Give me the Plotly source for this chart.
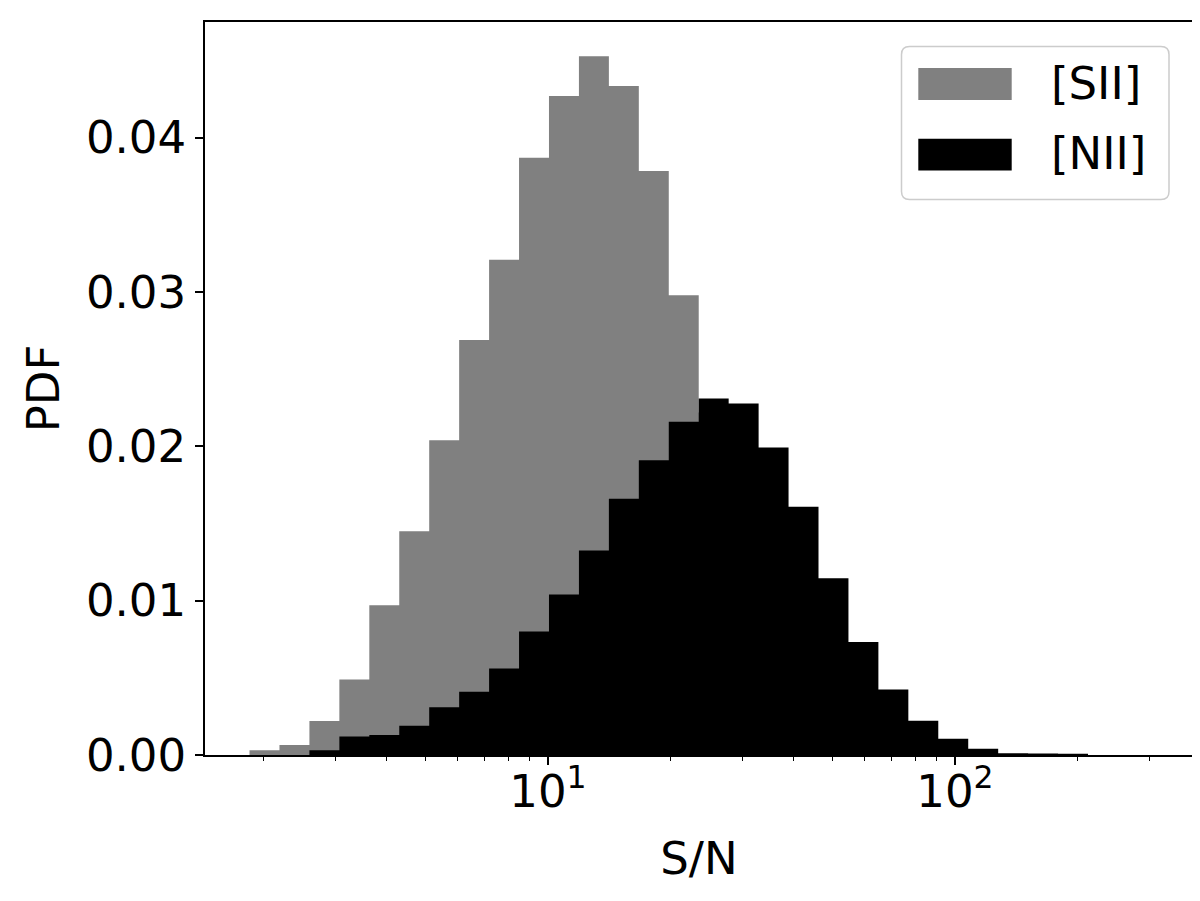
import numpy as np
import plotly.graph_objects as go

# ---- data ----
LOG_LO, LOG_HI, N_BINS = 0.2666, 2.474, 30   # log10 S/N range of the shared histogram bins
bin_edges = list(np.logspace(LOG_LO, LOG_HI, N_BINS + 1))

sii_pdf = [0.0003, 0.00065, 0.0022, 0.0049, 0.0097, 0.0145, 0.0204, 0.0269, 0.0321, 0.0387,
           0.0427, 0.04528, 0.04336, 0.03785, 0.0298, 0.0222, 0.0158, 0.0108, 0.0068, 0.0040,
           0.0022, 0.0011, 0.0005, 0.0002, 0.0001, 0.00005, 0.00002, 0.0, 0.0, 0.0]
nii_pdf = [0.0, 0.0, 0.0003, 0.0012, 0.0013, 0.0019, 0.0031, 0.0041, 0.0056, 0.0080,
           0.0104, 0.01325, 0.0166, 0.0191, 0.0216, 0.02311, 0.02277, 0.01993, 0.01609, 0.01146,
           0.00732, 0.00424, 0.00222, 0.00105, 0.0004, 0.00012, 0.0001, 0.00008, 0.0, 0.0]
series_names = ["[SII]", "[NII]"]
series_colors = ["#808080", "#000000"]

x_major_vals = [10, 100]
x_major_text = ["10<sup>1</sup>", "10<sup>2</sup>"]
x_minor_vals = [2, 3, 4, 5, 6, 7, 8, 9, 20, 30, 40, 50, 60, 70, 80, 90, 200, 300]
y_tick_vals = [0.0, 0.01, 0.02, 0.03, 0.04]

FONT = "DejaVu Sans"
FS = 45

fig = go.Figure()
for name, vals, col in zip(series_names, [sii_pdf, nii_pdf], series_colors):
    fig.add_trace(go.Scatter(
        x=bin_edges, y=list(vals) + [0.0],
        mode="lines", line=dict(shape="hv", width=0, color=col),
        fill="tozeroy", fillcolor=col, name=name, showlegend=False,
    ))

# page offset of the figure (browser body margin)
OFF = 8
# target plot area in screen pixels: x 205..1193, y 20..755
L, R, T, B = 205, 1193, 20, 755
W, H = R - L, B - T
def px(x):
    return (x - L) / W
def py(y):
    return (B - y) / H

# custom matplotlib-like legend
bx0, bx1, by0, by1 = px(901.5), px(1169), py(198), py(44.5)
rx, ry = 8 / W, 8 / H
path = (f"M {bx0+rx},{by1} L {bx1-rx},{by1} Q {bx1},{by1} {bx1},{by1-ry} "
        f"L {bx1},{by0+ry} Q {bx1},{by0} {bx1-rx},{by0} L {bx0+rx},{by0} "
        f"Q {bx0},{by0} {bx0},{by0+ry} L {bx0},{by1-ry} Q {bx0},{by1} {bx0+rx},{by1} Z")
fig.add_shape(type="path", path=path, xref="paper", yref="paper",
              line=dict(color="#cccccc", width=1.5), fillcolor="rgba(255,255,255,0.8)")
handle_centers = [82.2, 153.0]
for name, col, cy in zip(series_names, series_colors, handle_centers):
    fig.add_shape(type="rect", xref="paper", yref="paper",
                  x0=px(918.3), x1=px(1011.7), y0=py(cy + 16), y1=py(cy - 16),
                  line=dict(width=0), fillcolor=col)
    fig.add_annotation(text=name, xref="paper", yref="paper", x=px(1049), y=py(cy - 1),
                       xanchor="left", yanchor="middle", showarrow=False,
                       font=dict(family=FONT, size=FS, color="black"))

axis_common = dict(showline=True, linecolor="black", linewidth=1.8, mirror=True,
                   ticks="outside", ticklen=8, tickwidth=1.8, tickcolor="black",
                   showgrid=False, zeroline=False,
                   tickfont=dict(family=FONT, size=FS, color="black"))

fig.update_xaxes(type="log", range=[0.1572, 2.5848], tickmode="array",
                 tickvals=x_major_vals, ticktext=x_major_text, ticklabelstandoff=-12,
                 minor=dict(tickmode="array", tickvals=x_minor_vals, ticks="outside",
                            ticklen=4.5, tickwidth=1.4, tickcolor="black", showgrid=False),
                 title=dict(text="S/N", font=dict(family=FONT, size=FS, color="black"), standoff=26),
                 **axis_common)
fig.update_yaxes(range=[0, 0.0475], tickmode="array", tickvals=y_tick_vals,
                 tickformat=".2f",
                 title=dict(text="PDF", font=dict(family=FONT, size=FS, color="black"), standoff=12),
                 **axis_common)

fig.update_layout(width=1200, height=901,
                  margin=dict(l=L - OFF, r=1200 - (R - OFF), t=T - OFF, b=901 - (B - OFF)),
                  plot_bgcolor="white", paper_bgcolor="white",
                  font=dict(family=FONT, size=FS, color="black"), showlegend=False)

fig.write_html("out.html")
